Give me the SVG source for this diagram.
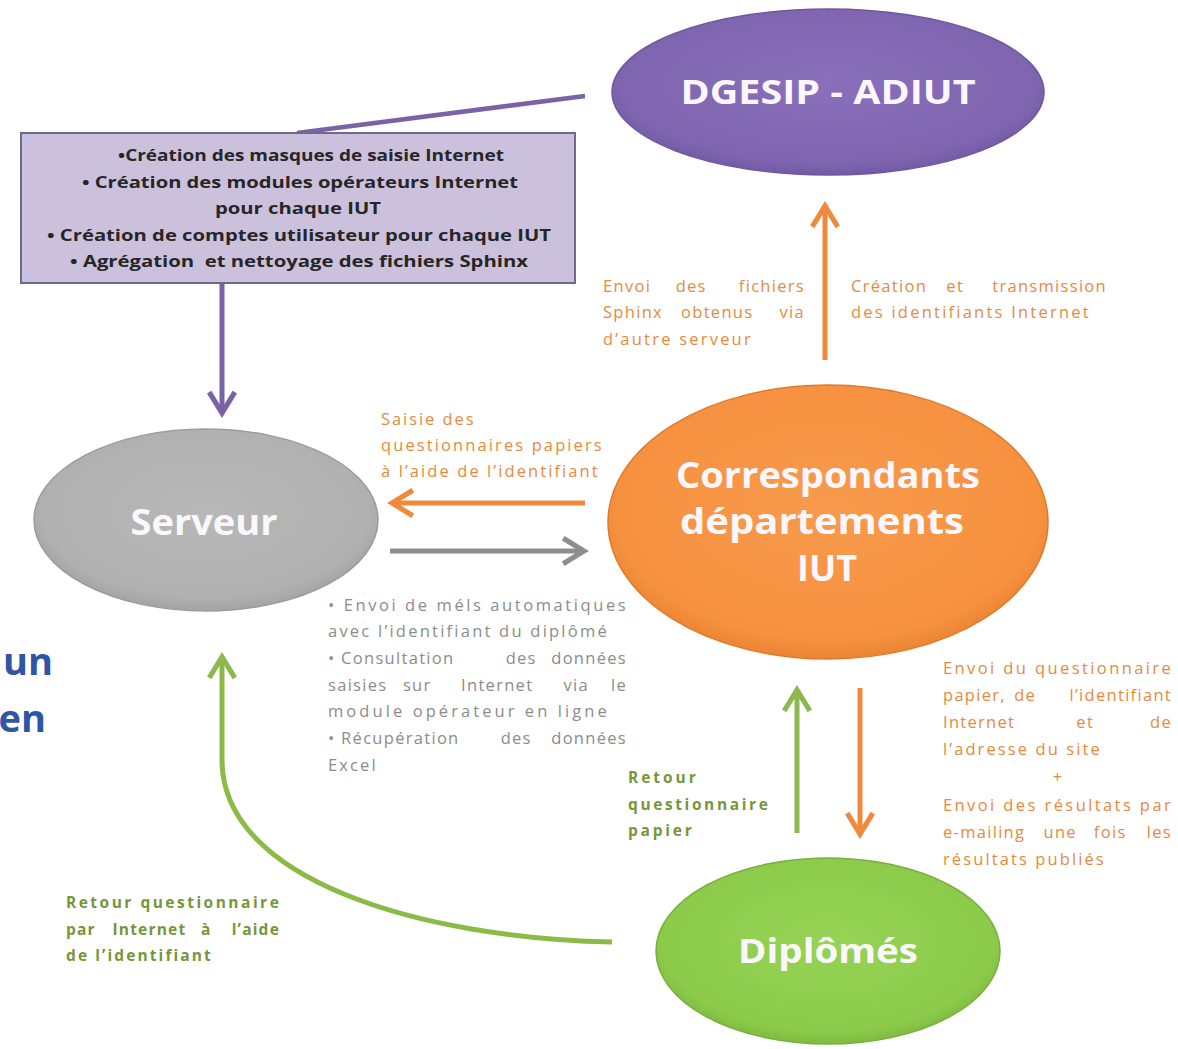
<svg xmlns="http://www.w3.org/2000/svg" width="1178" height="1049" viewBox="0 0 1178 1049">
<style>
.node-label{font-family:"Open Sans","Liberation Sans",sans-serif;font-weight:bold;fill:#fbf7fd;text-anchor:middle}
.box-text{font-family:"Open Sans","Liberation Sans",sans-serif;font-weight:bold;font-size:15.5px;fill:#262626;text-anchor:middle}
.or{font-family:"Open Sans","Liberation Sans",sans-serif;font-size:16.5px;letter-spacing:1.3px;fill:#e68a3e}
.gr{font-family:"Open Sans","Liberation Sans",sans-serif;font-size:16.5px;letter-spacing:1.3px;fill:#8c8c8c}
.gn{font-family:"Open Sans","Liberation Sans",sans-serif;font-size:15.5px;letter-spacing:1.2px;font-weight:bold;fill:#76963a}
.blue{font-family:"Open Sans","Liberation Sans",sans-serif;font-size:38px;font-weight:bold;fill:#2e55a6}
.m{text-anchor:middle}
.e{text-anchor:end}
</style>
<defs>
<radialGradient id="gPurple" cx="50%" cy="45%" r="60%"><stop offset="0" stop-color="#8a6fbb"/><stop offset="0.8" stop-color="#7f64b0"/><stop offset="1" stop-color="#6c529e"/></radialGradient>
<radialGradient id="gGray" cx="50%" cy="45%" r="60%"><stop offset="0" stop-color="#b8b8b8"/><stop offset="0.8" stop-color="#b0b0b0"/><stop offset="1" stop-color="#9a9a9a"/></radialGradient>
<radialGradient id="gOrange" cx="50%" cy="45%" r="60%"><stop offset="0" stop-color="#f89a4c"/><stop offset="0.8" stop-color="#f69140"/><stop offset="1" stop-color="#e27c2c"/></radialGradient>
<radialGradient id="gGreen" cx="50%" cy="45%" r="60%"><stop offset="0" stop-color="#96d356"/><stop offset="0.8" stop-color="#8ccb4a"/><stop offset="1" stop-color="#76b23a"/></radialGradient>
<marker id="hPurple" viewBox="0 0 20 20" refX="17" refY="10" markerWidth="32" markerHeight="32" markerUnits="userSpaceOnUse" orient="auto"><path d="M4,2 L17,10 L4,18" fill="none" stroke="#7a62a6" stroke-width="3.2"/></marker>
<marker id="hOrange" viewBox="0 0 20 20" refX="17" refY="10" markerWidth="32" markerHeight="32" markerUnits="userSpaceOnUse" orient="auto"><path d="M4,2 L17,10 L4,18" fill="none" stroke="#f0893c" stroke-width="3.2"/></marker>
<marker id="hGray" viewBox="0 0 20 20" refX="17" refY="10" markerWidth="32" markerHeight="32" markerUnits="userSpaceOnUse" orient="auto"><path d="M4,2 L17,10 L4,18" fill="none" stroke="#8e8e8e" stroke-width="3.2"/></marker>
<marker id="hGreen" viewBox="0 0 20 20" refX="17" refY="10" markerWidth="32" markerHeight="32" markerUnits="userSpaceOnUse" orient="auto"><path d="M4,2 L17,10 L4,18" fill="none" stroke="#8db84e" stroke-width="3.2"/></marker>
</defs>
<rect width="1178" height="1049" fill="#ffffff"/>

<g id="connectors" fill="none" stroke-width="5">
<line x1="297" y1="133" x2="585" y2="96" stroke="#7a62a6" stroke-width="4.5"/>
<line x1="222" y1="283" x2="222" y2="413" stroke="#7a62a6" marker-end="url(#hPurple)"/>
<line x1="825" y1="360" x2="825" y2="206" stroke="#f0893c" marker-end="url(#hOrange)"/>
<line x1="585" y1="503" x2="392" y2="503" stroke="#f0893c" marker-end="url(#hOrange)"/>
<line x1="390" y1="551" x2="584" y2="551" stroke="#8e8e8e" marker-end="url(#hGray)"/>
<line x1="797" y1="833" x2="797" y2="690" stroke="#8db84e" marker-end="url(#hGreen)"/>
<line x1="860" y1="688" x2="860" y2="834" stroke="#f0893c" marker-end="url(#hOrange)"/>
<path d="M612,942 C420,938 222,880 222,760 L222,657" stroke="#8cba46" marker-end="url(#hGreen)"/>
</g>

<g id="dgesip">
<ellipse cx="828" cy="92" rx="216" ry="83" fill="url(#gPurple)" stroke="#6f58a0" stroke-width="1.5"/>
<text class="node-label" x="828" y="104" font-size="34" textLength="295" lengthAdjust="spacingAndGlyphs">DGESIP - ADIUT</text>
</g>

<g id="tasks-box">
<rect x="21" y="133" width="554" height="150" fill="#ccc1dc" stroke="#6e6a8e" stroke-width="2"/>
<text class="box-text" x="311" y="161" textLength="386" lengthAdjust="spacingAndGlyphs">•Création des masques de saisie Internet</text>
<text class="box-text" x="300" y="188" textLength="436" lengthAdjust="spacingAndGlyphs">• Création des modules opérateurs Internet</text>
<text class="box-text" x="298" y="214" textLength="166" lengthAdjust="spacingAndGlyphs">pour chaque IUT</text>
<text class="box-text" x="299" y="241" textLength="504" lengthAdjust="spacingAndGlyphs">• Création de comptes utilisateur pour chaque IUT</text>
<text class="box-text" x="299" y="267" textLength="458" lengthAdjust="spacingAndGlyphs">• Agrégation&#160; et nettoyage des fichiers Sphinx</text>
</g>

<g id="serveur">
<ellipse cx="206" cy="520" rx="172" ry="91" fill="url(#gGray)" stroke="#9c9c9c" stroke-width="1.5"/>
<text class="node-label" x="204" y="535" font-size="36" textLength="147" lengthAdjust="spacingAndGlyphs">Serveur</text>
</g>

<g id="correspondants">
<ellipse cx="828" cy="522" rx="220" ry="137" fill="url(#gOrange)" stroke="#e07a2a" stroke-width="1.5"/>
<text class="node-label" x="828" y="488" font-size="36" textLength="304" lengthAdjust="spacingAndGlyphs">Correspondants</text>
<text class="node-label" x="822" y="534" font-size="36" textLength="284" lengthAdjust="spacingAndGlyphs">départements</text>
<text class="node-label" x="827" y="581" font-size="36" textLength="60" lengthAdjust="spacingAndGlyphs">IUT</text>
</g>

<g id="diplomes">
<ellipse cx="828" cy="951" rx="172" ry="93" fill="url(#gGreen)" stroke="#79b03e" stroke-width="1.5"/>
<text class="node-label" x="828" y="963" font-size="34" textLength="180" lengthAdjust="spacingAndGlyphs">Diplômés</text>
</g>

<g id="label-envoi-sphinx">
<text class="or" y="292"><tspan x="603">Envoi </tspan><tspan class="m" x="694">des </tspan><tspan class="e" x="805">fichiers</tspan></text>
<text class="or" y="318"><tspan x="603">Sphinx </tspan><tspan class="m" x="720">obtenus </tspan><tspan class="e" x="805">via</tspan></text>
<text class="or" x="603" y="345" textLength="149" lengthAdjust="spacing">d’autre serveur</text>
</g>

<g id="label-creation-identifiants">
<text class="or" y="292"><tspan x="851">Création </tspan><tspan class="m" x="958">et </tspan><tspan class="e" x="1107">transmission</tspan></text>
<text class="or" x="851" y="318" textLength="239" lengthAdjust="spacing">des identifiants Internet</text>
</g>

<g id="label-saisie">
<text class="or" x="381" y="425" textLength="94" lengthAdjust="spacing">Saisie des</text>
<text class="or" x="381" y="451" textLength="222" lengthAdjust="spacing">questionnaires papiers</text>
<text class="or" x="381" y="477" textLength="218" lengthAdjust="spacing">à l’aide de l’identifiant</text>
</g>

<g id="label-serveur-actions">
<text class="gr" x="328" y="611" textLength="299" lengthAdjust="spacing">• Envoi de méls automatiques</text>
<text class="gr" x="328" y="637" textLength="280" lengthAdjust="spacing">avec l’identifiant du diplômé</text>
<text class="gr" y="664"><tspan x="328">• Consultation </tspan><tspan class="m" x="524">des </tspan><tspan class="e" x="627">données</tspan></text>
<text class="gr" y="691"><tspan x="328">saisies </tspan><tspan class="m" x="420">sur </tspan><tspan class="m" x="500">Internet </tspan><tspan class="m" x="579">via </tspan><tspan class="e" x="627">le</tspan></text>
<text class="gr" x="328" y="717" textLength="280" lengthAdjust="spacing">module opérateur en ligne</text>
<text class="gr" y="744"><tspan x="328">• Récupération </tspan><tspan class="m" x="519">des </tspan><tspan class="e" x="627">données</tspan></text>
<text class="gr" x="328" y="771" textLength="49" lengthAdjust="spacing">Excel</text>
</g>

<g id="label-retour-papier">
<text class="gn" x="628" y="783" textLength="69" lengthAdjust="spacing">Retour</text>
<text class="gn" x="628" y="810" textLength="141" lengthAdjust="spacing">questionnaire</text>
<text class="gn" x="628" y="836" textLength="65" lengthAdjust="spacing">papier</text>
</g>

<g id="label-envoi-questionnaire">
<text class="or" x="943" y="674" textLength="229" lengthAdjust="spacing">Envoi du questionnaire</text>
<text class="or" y="701"><tspan x="943">papier, </tspan><tspan class="m" x="1028">de </tspan><tspan class="e" x="1172">l’identifiant</tspan></text>
<text class="or" y="728"><tspan x="943">Internet </tspan><tspan class="m" x="1088">et </tspan><tspan class="e" x="1172">de</tspan></text>
<text class="or" x="943" y="755" textLength="158" lengthAdjust="spacing">l’adresse du site</text>
<text class="or m" x="1058" y="783">+</text>
<text class="or" x="943" y="811" textLength="229" lengthAdjust="spacing">Envoi des résultats par</text>
<text class="or" y="838"><tspan x="943">e-mailing </tspan><tspan class="m" x="1063">une </tspan><tspan class="m" x="1113">fois </tspan><tspan class="e" x="1172">les</tspan></text>
<text class="or" x="943" y="865" textLength="162" lengthAdjust="spacing">résultats publiés</text>
</g>

<g id="label-retour-internet">
<text class="gn" x="66" y="908" textLength="214" lengthAdjust="spacing">Retour questionnaire</text>
<text class="gn" y="935"><tspan x="66">par </tspan><tspan class="m" x="152">Internet </tspan><tspan class="m" x="209">à </tspan><tspan class="e" x="280">l’aide</tspan></text>
<text class="gn" x="66" y="961" textLength="146" lengthAdjust="spacing">de l’identifiant</text>
</g>

<g id="fragment-text">
<text class="blue" x="53" y="675" text-anchor="end">un</text>
<text class="blue" x="46" y="732" text-anchor="end">en</text>
</g>
</svg>
